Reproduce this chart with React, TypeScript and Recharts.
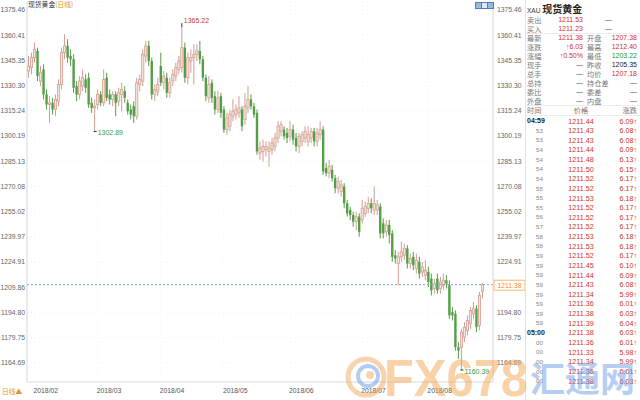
import React from 'react';
import { Bar, CartesianGrid, ComposedChart, ReferenceLine, XAxis, YAxis } from 'recharts';

// daily XAU candles, 2018-01-30 .. 2018-08-27
const opens = [
  1339, 1341, 1347, 1351, 1333, 1340, 1325, 1319, 1320, 1316, 1321, 1331, 1350, 1354, 1348, 1346,
  1330, 1325, 1330, 1334, 1335, 1320, 1317, 1319, 1325, 1320, 1335, 1325, 1322, 1325, 1321, 1325,
  1327, 1320, 1316, 1318, 1312, 1331, 1333, 1348, 1354, 1345, 1325, 1327, 1342, 1332, 1335, 1326,
  1333, 1336, 1340, 1341, 1353, 1335, 1345, 1347, 1349, 1351, 1346, 1335, 1323, 1332, 1324, 1316,
  1324, 1316, 1304, 1306, 1312, 1313, 1314, 1316, 1310, 1317, 1322, 1318, 1314, 1290, 1291, 1292,
  1291, 1292, 1294, 1299, 1303, 1304, 1302, 1300, 1304, 1299, 1294, 1297, 1299, 1297, 1299, 1303,
  1297, 1301, 1304, 1281, 1278, 1280, 1275, 1269, 1267, 1270, 1260, 1256, 1253, 1249, 1252, 1250,
  1254, 1257, 1260, 1256, 1256, 1258, 1248, 1243, 1247, 1242, 1229, 1224, 1228, 1229, 1233, 1224,
  1228, 1221, 1225, 1219, 1217, 1219, 1215, 1209, 1215, 1209, 1211, 1214, 1211, 1195, 1194, 1174,
  1174, 1180, 1184, 1188, 1194, 1197, 1187, 1207.38,
];
const highs = [
  1348, 1350, 1356, 1353, 1342, 1343, 1328, 1324, 1323, 1325, 1334, 1353, 1361, 1358, 1352, 1349,
  1333, 1336, 1340, 1337, 1338, 1323, 1322, 1328, 1327, 1340, 1338, 1328, 1327, 1327, 1329, 1332,
  1330, 1322, 1319, 1321, 1335, 1337, 1352, 1357, 1357, 1347, 1331, 1335, 1350, 1339, 1338, 1335,
  1340, 1344, 1348, 1365.22, 1356, 1350, 1352, 1355, 1355, 1357, 1348, 1337, 1336, 1334, 1327, 1327,
  1326, 1318, 1314, 1316, 1322, 1319, 1324, 1318, 1326, 1330, 1325, 1320, 1316, 1297, 1298, 1297,
  1297, 1299, 1302, 1309, 1309, 1306, 1305, 1309, 1307, 1302, 1302, 1303, 1306, 1306, 1305, 1305,
  1305, 1309, 1306, 1284, 1286, 1283, 1277, 1276, 1274, 1272, 1262, 1258, 1255, 1255, 1254, 1262,
  1261, 1264, 1263, 1270, 1262, 1260, 1251, 1250, 1250, 1244, 1232, 1231, 1237, 1236, 1235, 1230,
  1231, 1230, 1228, 1225, 1226, 1222, 1218, 1215, 1218, 1216, 1218, 1217, 1214, 1198, 1196, 1177,
  1185, 1189, 1193, 1198, 1201, 1199, 1207, 1212.4,
];
const lows = [
  1335, 1337, 1344, 1333, 1330, 1322, 1316, 1308, 1313, 1312, 1318, 1328, 1346, 1344, 1342, 1326,
  1321, 1322, 1327, 1326, 1317, 1314, 1302.89, 1316, 1318, 1318, 1321, 1319, 1318, 1312, 1318, 1315,
  1320, 1313, 1310, 1308, 1310, 1327, 1330, 1344, 1342, 1322, 1321, 1324, 1330, 1328, 1323, 1323,
  1330, 1333, 1337, 1338, 1332, 1331, 1338, 1331, 1345, 1343, 1333, 1321, 1320, 1320, 1313, 1314,
  1311, 1302, 1301, 1303, 1309, 1310, 1311, 1303, 1307, 1314, 1316, 1311, 1289, 1286, 1285, 1288,
  1282, 1289, 1291, 1296, 1300, 1298, 1296, 1297, 1295, 1291, 1290, 1294, 1296, 1294, 1296, 1294,
  1294, 1298, 1277, 1276, 1275, 1273, 1266, 1266, 1264, 1257, 1252, 1250, 1246, 1244, 1240, 1248,
  1252, 1254, 1254, 1253, 1253, 1239, 1239, 1240, 1236, 1225, 1224, 1211, 1225, 1226, 1221, 1221,
  1220, 1218, 1215, 1216, 1214, 1210, 1205, 1206, 1206, 1206, 1208, 1209, 1191, 1190, 1172, 1167,
  1160.39, 1177, 1181, 1185, 1191, 1183, 1184, 1203.22,
];
const closes = [
  1342, 1347, 1352, 1336, 1338, 1325, 1319, 1320, 1316, 1322, 1331, 1350, 1354, 1347, 1346, 1329,
  1325, 1333, 1335, 1329, 1319, 1317, 1318, 1325, 1320, 1334, 1323, 1322, 1325, 1320, 1326, 1328,
  1323, 1315, 1313, 1312, 1332, 1334, 1349, 1354, 1345, 1325, 1328, 1331, 1332, 1336, 1326, 1332,
  1337, 1341, 1345, 1353, 1335, 1347, 1347, 1349, 1351, 1346, 1335, 1324, 1331, 1323, 1316, 1323,
  1314, 1304, 1311, 1313, 1315, 1316, 1317, 1306, 1318, 1322, 1318, 1313, 1291, 1293, 1294, 1294,
  1293, 1296, 1299, 1306, 1307, 1300, 1299, 1304, 1298, 1294, 1300, 1301, 1303, 1301, 1303, 1297,
  1302, 1304, 1279, 1278, 1282, 1275, 1269, 1273, 1271, 1260, 1254, 1253, 1249, 1252, 1243, 1257,
  1258, 1260, 1257, 1260, 1259, 1242, 1242, 1247, 1241, 1228, 1227, 1228, 1231, 1233, 1224, 1227,
  1223, 1226, 1218, 1222, 1220, 1213, 1208, 1212, 1208, 1213, 1214, 1212, 1193, 1193, 1174, 1172,
  1183, 1186, 1190, 1196, 1197, 1186, 1205, 1211.38,
];

const monthStarts = [2, 23, 44, 65, 87, 111, 133];
const monthLabels = ['2018/02', '2018/03', '2018/04', '2018/05', '2018/06', '2018/07', '2018/08'];
const priceTicks = [
  1164.69, 1179.75, 1194.8, 1209.86, 1224.91, 1239.97, 1255.02, 1270.08,
  1285.13, 1300.19, 1315.24, 1330.3, 1345.35, 1360.41, 1375.46,
];
const lastPrice = 1211.38;
const highMarks = [51];
const lowMarks = [22, 144];

// quote box
const quoteLeftLabels = ['卖出', '买入', '最新', '涨跌', '涨幅', '现手', '总手', '总持', '委比', '外盘'];
const quoteLeftValues = ['1211.53', '1211.23', '1211.38', '↑6.03', '↑0.50%', '—', '—', '—', '—', '—'];
const quoteRightLabels = ['', '', '开盘', '最高', '最低', '昨收', '均价', '持仓差', '委差', '内盘'];
const quoteRightValues = ['—', '—', '1207.38', '1212.40', '1203.22', '1205.35', '1207.18', '—', '—', '—'];
const quoteRightColors = ['#555', '#555', '#d0312d', '#d0312d', '#1f9a2e', '#222', '#d0312d', '#555', '#555', '#555'];

const tickTimes = [
  '04:59', '53', '53', '54', '54', '54', '54', '55', '55', '55', '56', '57', '58', '58',
  '59', '59', '59', '59', '59', '59', '59', '59', '05:00', '00', '00', '00', '00', '00',
];
const tickPrices = [
  '1211.44', '1211.43', '1211.43', '1211.44', '1211.48', '1211.50', '1211.52', '1211.52', '1211.53', '1211.52',
  '1211.52', '1211.52', '1211.53', '1211.53', '1211.52', '1211.45', '1211.44', '1211.43', '1211.34', '1211.36',
  '1211.38', '1211.39', '1211.38', '1211.36', '1211.33', '1211.34', '1211.36', '1211.38',
];
const tickChanges = [
  '6.09', '6.08', '6.08', '6.09', '6.13', '6.15', '6.17', '6.17', '6.18', '6.17',
  '6.17', '6.17', '6.18', '6.18', '6.17', '6.10', '6.09', '6.08', '5.99', '6.01',
  '6.03', '6.04', '6.03', '6.01', '5.98', '5.99', '6.01', '6.03',
];

const chartData: any[] = opens.map((o, i) => ({ i, o, h: highs[i], l: lows[i], c: closes[i] }));
for (let k = 0; k < 3; k++) chartData.push({ i: opens.length + k });

const NUM_FONT = '"Liberation Sans", Arial, sans-serif';
const CJK_FONT = '"Noto Sans CJK SC", "Liberation Sans", sans-serif';
const UP_FILL = '#f3e7da';
const UP_LINE = '#d39c91';
const DOWN = '#559e47';

const Candle = (props: any) => {
  const { x, y, width, height, payload } = props;
  if (!payload || payload.o == null) return null;
  const { o, h, l, c, i } = payload;
  const top = Math.min(y, y + height);
  const ph = Math.abs(height);
  const k = ph / (h - l || 1);
  const cx = x + width / 2;
  const yO = top + (h - o) * k;
  const yC = top + (h - c) * k;
  const bTop = Math.min(yO, yC);
  const bBot = Math.max(yO, yC);
  const bh = Math.max(bBot - bTop, 1);
  const up = c >= o;
  const yH = top;
  const yL = top + ph;
  return (
    <g>
      {up ? (
        <>
          <line x1={cx} x2={cx} y1={yH} y2={bTop} stroke={UP_LINE} strokeWidth={1} />
          <line x1={cx} x2={cx} y1={bTop + bh} y2={yL} stroke={UP_LINE} strokeWidth={1} />
          <rect x={cx - 1.1} y={bTop} width={2.2} height={bh} fill={UP_FILL} stroke={UP_LINE} strokeWidth={0.8} />
        </>
      ) : (
        <>
          <line x1={cx} x2={cx} y1={yH} y2={yL} stroke={DOWN} strokeWidth={1} />
          <rect x={cx - 1.2} y={bTop} width={2.4} height={bh} fill={DOWN} />
        </>
      )}
      {highMarks.includes(i) && (
        <g>
          <line x1={cx} x2={cx} y1={yH} y2={yH - 4} stroke="#333" strokeWidth={1} />
          <text x={cx + 2} y={yH - 4} fontSize={7} fill="#c0392b" fontFamily={NUM_FONT}>
            {h.toFixed(2)}
          </text>
        </g>
      )}
      {lowMarks.includes(i) && (
        <g>
          <line x1={cx - 1} x2={cx + 2} y1={yL} y2={yL} stroke="#333" strokeWidth={1} />
          <text x={cx + 3} y={yL + 4} fontSize={7} fill="#3d9a3d" fontFamily={NUM_FONT}>
            {l.toFixed(2)}
          </text>
        </g>
      )}
    </g>
  );
};

const LeftTick = ({ y, payload }: any) => (
  <text x={25} y={y} dy="0.35em" textAnchor="end" fontSize={6.8} fill="#666" fontFamily={NUM_FONT}>
    {Number(payload.value).toFixed(2)}
  </text>
);

// the last-price tag covers the tick next to it on the right side
const RightTick = ({ y, payload }: any) =>
  Math.abs(payload.value - lastPrice) < 5 ? null : (
    <text x={497} y={y} dy="0.35em" textAnchor="start" fontSize={6.8} fill="#666" fontFamily={NUM_FONT}>
      {Number(payload.value).toFixed(2)}
    </text>
  );

const MonthTick = ({ x, payload }: any) => {
  const idx = monthStarts.indexOf(payload.value);
  return (
    <text x={x - 1} y={391} dy="0.35em" textAnchor="start" fontSize={6.8} fill="#555" fontFamily={NUM_FONT}>
      {monthLabels[idx]}
    </text>
  );
};

const PriceTag = ({ viewBox }: any) => {
  if (!viewBox) return null;
  const px = viewBox.x + viewBox.width + 1;
  const py = viewBox.y;
  return (
    <g>
      <rect x={px} y={py - 4.5} width={31} height={10} fill="#fff" stroke="#f0a64a" strokeWidth={0.8} />
      <text x={px + 15.5} y={py + 0.5} dy="0.35em" textAnchor="middle" fontSize={6.8} fill="#e8912f" fontFamily={NUM_FONT}>
        {lastPrice.toFixed(2)}
      </text>
    </g>
  );
};

const rowY = (r: number) => 20 + r * 9;
const tickRowY = (r: number) => 121 + r * 9.63;

const App = () => {
  return (
    <div
      style={{
        position: 'fixed',
        left: 0,
        top: 0,
        width: 640,
        height: 400,
        background: '#fff',
        overflow: 'hidden',
      }}
    >
      <ComposedChart
        width={640}
        height={400}
        data={chartData}
        margin={{ top: 2, right: 115, bottom: 0, left: 0 }}
        barCategoryGap={0}
      >
        <CartesianGrid yAxisId="left" stroke="#f1f1f1" strokeDasharray="1 3" />
        <XAxis
          dataKey="i"
          ticks={monthStarts}
          interval={0}
          height={18}
          tick={<MonthTick />}
          tickLine={false}
          axisLine={{ stroke: '#dadada' }}
        />
        <YAxis
          yAxisId="left"
          width={27}
          domain={[1153.24, 1380.24]}
          allowDataOverflow
          ticks={priceTicks}
          interval={0}
          tick={<LeftTick />}
          tickLine={false}
          axisLine={{ stroke: '#dadada' }}
        />
        <YAxis
          yAxisId="right"
          orientation="right"
          width={32}
          domain={[1153.24, 1380.24]}
          allowDataOverflow
          ticks={priceTicks}
          interval={0}
          tick={<RightTick />}
          tickLine={false}
          axisLine={{ stroke: '#dadada' }}
        />
        <ReferenceLine
          yAxisId="left"
          y={lastPrice}
          stroke="#7d9cc8"
          strokeDasharray="2 2"
          label={<PriceTag />}
        />
        <Bar
          yAxisId="left"
          dataKey={(d: any) => (d.o == null ? null : [d.l, d.h])}
          shape={(p: any) => <Candle {...p} />}
          isAnimationActive={false}
        />
      </ComposedChart>

      {/* title + tool icons */}
      <div style={{ position: 'absolute', left: 28, top: 0, fontSize: 6.8, fontFamily: CJK_FONT, lineHeight: '9px', color: '#333' }}>
        现货黄金<span style={{ color: '#e8912f' }}>(日线)</span>
      </div>
      {[0, 1, 2].map((n) => (
        <div
          key={n}
          style={{
            position: 'absolute',
            left: 475 + n * 6,
            top: 2,
            width: 5,
            height: 5,
            border: '0.5px solid #4f7fbf',
            background: n === 1 ? '#dfe9f6' : '#9bb7dd',
          }}
        />
      ))}
      <div style={{ position: 'absolute', left: 2, top: 386, fontSize: 6.8, fontFamily: CJK_FONT, color: '#e8912f', lineHeight: '10px' }}>
        日线▲
      </div>

      {/* quote panel */}
      <div style={{ position: 'absolute', left: 525, top: 0, width: 1, height: 400, background: '#e2e2e2' }} />
      <div style={{ position: 'absolute', left: 527, top: 2, lineHeight: '12px', whiteSpace: 'nowrap' }}>
        <span style={{ fontSize: 6.5, fontFamily: NUM_FONT, color: '#333' }}>XAU </span>
        <span style={{ fontSize: 10, fontFamily: CJK_FONT, fontWeight: 700, color: '#222' }}>现货黄金</span>
      </div>
      <svg width={640} height={400} style={{ position: 'absolute', left: 0, top: 0, pointerEvents: 'none' }}>
        <line x1={526} x2={640} y1={33.5} y2={33.5} stroke="#ececec" />
        <line x1={526} x2={640} y1={105.5} y2={105.5} stroke="#ececec" />
        <line x1={526} x2={640} y1={115.5} y2={115.5} stroke="#ececec" />
        {quoteLeftLabels.map((lab, r) => (
          <g key={'q' + r}>
            <text x={527} y={rowY(r)} dy="0.35em" fontSize={7.2} fill="#777" fontFamily={CJK_FONT}>
              {lab}
            </text>
            <text
              x={583}
              y={rowY(r)}
              dy="0.35em"
              textAnchor="end"
              fontSize={7}
              fill={quoteLeftValues[r] === '—' ? '#555' : '#d0312d'}
              fontFamily={NUM_FONT}
            >
              {quoteLeftValues[r]}
            </text>
            {quoteRightLabels[r] && (
              <text x={587} y={rowY(r)} dy="0.35em" fontSize={7.2} fill="#777" fontFamily={CJK_FONT}>
                {quoteRightLabels[r]}
              </text>
            )}
            <text
              x={r < 2 ? 612 : 637}
              y={rowY(r)}
              dy="0.35em"
              textAnchor="end"
              fontSize={7}
              fill={quoteRightColors[r]}
              fontFamily={NUM_FONT}
            >
              {quoteRightValues[r]}
            </text>
          </g>
        ))}
        <text x={527} y={110.5} dy="0.35em" fontSize={7.2} fill="#777" fontFamily={CJK_FONT}>时间</text>
        <text x={581} y={110.5} dy="0.35em" textAnchor="middle" fontSize={7.2} fill="#777" fontFamily={CJK_FONT}>价格</text>
        <text x={637} y={110.5} dy="0.35em" textAnchor="end" fontSize={7.2} fill="#777" fontFamily={CJK_FONT}>涨跌</text>
        {tickTimes.map((t, r) => (
          <g key={'t' + r}>
            <text
              x={t.length > 2 ? 527 : 536}
              y={tickRowY(r)}
              dy="0.35em"
              fontSize={t.length > 2 ? 7 : 6.2}
              fontWeight={t.length > 2 ? 700 : 400}
              fill={t.length > 2 ? '#222' : '#888'}
              fontFamily={NUM_FONT}
            >
              {t}
            </text>
            <text x={581} y={tickRowY(r)} dy="0.35em" textAnchor="middle" fontSize={7.2} fill="#d0312d" fontFamily={NUM_FONT}>
              {tickPrices[r]}
            </text>
            <text x={637} y={tickRowY(r)} dy="0.35em" textAnchor="end" fontSize={7.2} fill="#d0312d" fontFamily={NUM_FONT}>
              {tickChanges[r]}↑
            </text>
          </g>
        ))}

        {/* FX678 watermark */}
        <g opacity={0.5}>
          <circle cx={366} cy={377} r={18} fill="none" stroke="#f2a860" strokeWidth={5} />
          <circle cx={368} cy={376} r={10} fill="none" stroke="#6a9be0" strokeWidth={4} />
          <circle cx={370} cy={375} r={4} fill="#f2a860" />
          <text x={384} y={396} fontSize={52} fontWeight={700} fill="#f5a653" fontFamily={NUM_FONT} textLength={144} lengthAdjust="spacingAndGlyphs">
            FX678
          </text>
          <text x={530} y={392} fontSize={35} fontWeight={700} fill="#6f9fe6" fontFamily={CJK_FONT}>
            汇通网
          </text>
        </g>
      </svg>
    </div>
  );
};

export default App;
